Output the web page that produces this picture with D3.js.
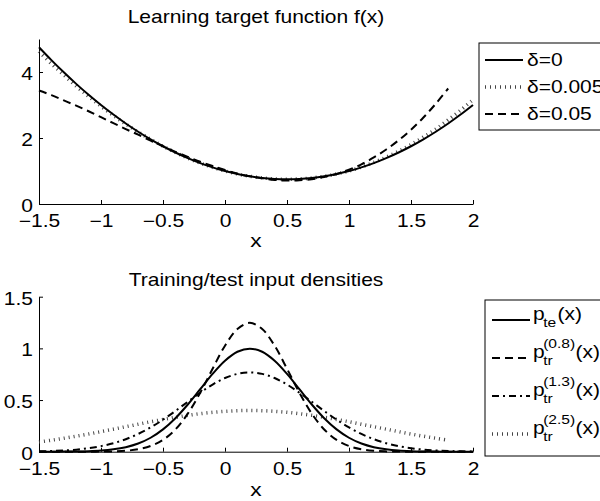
<!DOCTYPE html>
<html>
<head>
<meta charset="utf-8">
<script src="https://cdn.jsdelivr.net/npm/d3@7"></script>
<style>
  body { margin: 0; background: #fff; }
  text { font-family: "Liberation Sans", Arial, sans-serif; fill: #000; }
</style>
</head>
<body>
<svg id="chart" width="600" height="501"></svg>
<script>
// --- data ---
const xGrid = [-1.5,-1.4,-1.3,-1.2,-1.1,-1.0,-0.9,-0.8,-0.7,-0.6,-0.5,-0.4,-0.3,-0.2,-0.1,0.0,
               0.1,0.2,0.3,0.4,0.5,0.6,0.7,0.8,0.9,1.0,1.1,1.2,1.3,1.4,1.5,1.6,1.7,1.8,1.9,2.0];

// top panel: f(x) for three delta values
const fDelta0 = [4.75,4.36,3.99,3.64,3.31,3.00,2.71,2.44,2.19,1.96,1.75,1.56,1.39,1.24,1.11,1.00,
                 0.91,0.84,0.79,0.76,0.75,0.76,0.79,0.84,0.91,1.00,1.11,1.24,1.39,1.56,1.75,1.96,2.19,2.44,2.71,3.00];
const fDelta005 = [4.62,4.25,3.91,3.57,3.26,2.96,2.68,2.42,2.18,1.96,1.75,1.56,1.39,1.24,1.11,1.00,
                   0.91,0.84,0.79,0.76,0.75,0.76,0.79,0.84,0.91,1.00,1.12,1.26,1.42,1.60,1.80,2.03,2.27,2.55,2.84,3.16];
const fDelta05 = [3.44,3.30,3.14,2.98,2.81,2.63,2.45,2.27,2.10,1.92,1.75,1.58,1.43,1.28,1.15,1.03,
                  0.92,0.84,0.78,0.73,0.71,0.72,0.75,0.82,0.91,1.04,1.20,1.41,1.65,1.93,2.25,2.62,3.04,3.50];

// bottom panel: densities
const pTest = [0.000,0.000,0.001,0.002,0.005,0.011,0.023,0.044,0.079,0.135,0.216,0.324,0.457,0.605,0.753,0.880,
               0.967,0.997,0.967,0.880,0.753,0.605,0.457,0.324,0.216,0.135,0.079,0.044,0.023,0.011,0.005,0.002,0.001,0.000,0.000,0.000];
const pTrain08 = [0,0,0,0,0,0.001,0.003,0.009,0.024,0.055,0.114,0.215,0.368,0.571,0.803,1.026,
                  1.187,1.247,1.187,1.026,0.803,0.571,0.368,0.215,0.114,0.055,0.024,0.009,0.003,0.001,0,0,0,0,0,0];
const pTrain13 = [0.004,0.007,0.012,0.020,0.034,0.054,0.082,0.121,0.172,0.235,0.310,0.394,0.483,0.571,0.650,0.713,
                  0.753,0.767,0.753,0.713,0.650,0.571,0.483,0.394,0.310,0.235,0.172,0.121,0.082,0.054,0.034,0.020,0.012,0.007,0.004,0.002];
const pTrain25 = [0.094,0.111,0.130,0.150,0.171,0.194,0.218,0.242,0.266,0.290,0.312,0.333,0.352,0.368,0.381,0.391,
                  0.397,0.399,0.397,0.391,0.381,0.368,0.352,0.333,0.312,0.290,0.266,0.242,0.218,0.194,0.171,0.150,0.130,0.111];

const xTicks = [-1.5,-1,-0.5,0,0.5,1,1.5,2];
const yTicksTop = [0,2,4];
const yTicksBottom = [0,0.5,1,1.5];
const topLegend = ["δ=0", "δ=0.005", "δ=0.05"];
const bottomLegend = [{sub: "te", sup: ""}, {sub: "tr", sup: "(0.8)"}, {sub: "tr", sup: "(1.3)"}, {sub: "tr", sup: "(2.5)"}];

// --- styles per series ---
const styles = {
  solid:   {stroke: "#000", width: 2, dash: null},
  dashed:  {stroke: "#000", width: 2, dash: "8,5"},
  dashdot: {stroke: "#000", width: 2, dash: "7,4,2,4"},
  dotted:  {stroke: "#444", width: 3.5, dash: "1,4"}
};

const FS = 17.5;     // tick / title font size
const SX = 1.2;      // the reference text is wider than Arial

const svg = d3.select("#chart");

const x = d3.scaleLinear().domain([-1.5, 2]).range([39, 473]);
const yTop = d3.scaleLinear().domain([0, 5]).range([204, 39]);
const yBot = d3.scaleLinear().domain([0, 1.5]).range([451.7, 296.7]);

const fmt = d => String(d).replace("-", "\u2212");

function stretchedText(parent, px, py, str, size, anchor) {
  return parent.append("text")
    .attr("transform", `translate(${px},${py}) scale(${SX},1)`)
    .attr("text-anchor", anchor || "middle")
    .style("font-size", size + "px")
    .text(str);
}

function drawAxes(y, yTicks, xAxisY) {
  const gx = svg.append("g")
    .attr("transform", `translate(0,${xAxisY})`)
    .call(d3.axisBottom(x).tickValues(xTicks).tickFormat(fmt).tickSizeInner(-4).tickSizeOuter(0).tickPadding(10.5));
  gx.selectAll("text")
    .style("font-size", FS + "px")
    .attr("transform", `scale(${SX},1)`);

  const gy = svg.append("g")
    .attr("transform", `translate(${x(-1.5)},0)`)
    .call(d3.axisLeft(y).tickValues(yTicks).tickFormat(fmt).tickSizeInner(-4).tickSizeOuter(0).tickPadding(6));
  gy.selectAll("text")
    .style("font-size", FS + "px")
    .attr("x", -6 / SX)
    .attr("dy", "0.42em")
    .attr("transform", `scale(${SX},1)`);

  svg.selectAll(".domain").attr("stroke", "#000").attr("stroke-width", 1);
  svg.selectAll(".tick line").attr("stroke", "#000");
}

function drawLine(y, values, style) {
  const line = d3.line()
    .x((d, i) => x(xGrid[i]))
    .y(d => y(d))
    .curve(d3.curveCatmullRom);
  svg.append("path")
    .datum(values)
    .attr("d", line)
    .attr("fill", "none")
    .attr("stroke", style.stroke)
    .attr("stroke-width", style.width)
    .attr("stroke-dasharray", style.dash);
}

function legendSample(px1, px2, py, style) {
  svg.append("line")
    .attr("x1", px1).attr("x2", px2).attr("y1", py).attr("y2", py)
    .attr("stroke", style.stroke)
    .attr("stroke-width", style.width)
    .attr("stroke-dasharray", style.dash);
}

// ===== top panel =====
drawAxes(yTop, yTicksTop, 204);
drawLine(yTop, fDelta005, styles.dotted);
drawLine(yTop, fDelta0, styles.solid);
drawLine(yTop, fDelta05, styles.dashed);
stretchedText(svg, 256, 22.5, "Learning target function f(x)", FS);
stretchedText(svg, 256, 247, "x", 19);

// legend
svg.append("rect").attr("x", 479).attr("y", 43).attr("width", 140).attr("height", 87)
  .attr("fill", "#fff").attr("stroke", "#000").attr("stroke-width", 1);
const topStyles = [styles.solid, styles.dotted, styles.dashed];
topLegend.forEach((lab, i) => {
  const ry = 60 + i * 27;
  legendSample(485, 523, ry, topStyles[i]);
  stretchedText(svg, 527, ry + 6, lab, FS, "start");
});

// ===== bottom panel =====
drawAxes(yBot, yTicksBottom, 451.7);
drawLine(yBot, pTrain25, styles.dotted);
drawLine(yBot, pTest, styles.solid);
drawLine(yBot, pTrain08, styles.dashed);
drawLine(yBot, pTrain13, styles.dashdot);
stretchedText(svg, 256, 285.5, "Training/test input densities", FS);
stretchedText(svg, 256, 496, "x", 19);

svg.append("rect").attr("x", 485).attr("y", 300).attr("width", 140).attr("height", 156)
  .attr("fill", "#fff").attr("stroke", "#000").attr("stroke-width", 1);
const botStyles = [styles.solid, styles.dashed, styles.dashdot, styles.dotted];
bottomLegend.forEach((e, i) => {
  const ry = 320 + i * 38;
  legendSample(492, 530, ry, botStyles[i]);
  const g = svg.append("g").attr("transform", `translate(533,${ry}) scale(${SX},1)`);
  g.append("text").attr("x", 0).attr("y", 0).style("font-size", FS + "px").text("p");
  g.append("text").attr("x", 8.5).attr("y", 7).style("font-size", "13px").text(e.sub);
  let after = 8.5 + (e.sub === "te" ? 12 : 8.5);
  if (e.sup) {
    g.append("text").attr("x", 8.5).attr("y", -10).style("font-size", "13px").text(e.sup);
    after = 8.5 + 27;
  }
  g.append("text").attr("x", after).attr("y", 0).style("font-size", FS + "px").text("(x)");
});
</script>
</body>
</html>
